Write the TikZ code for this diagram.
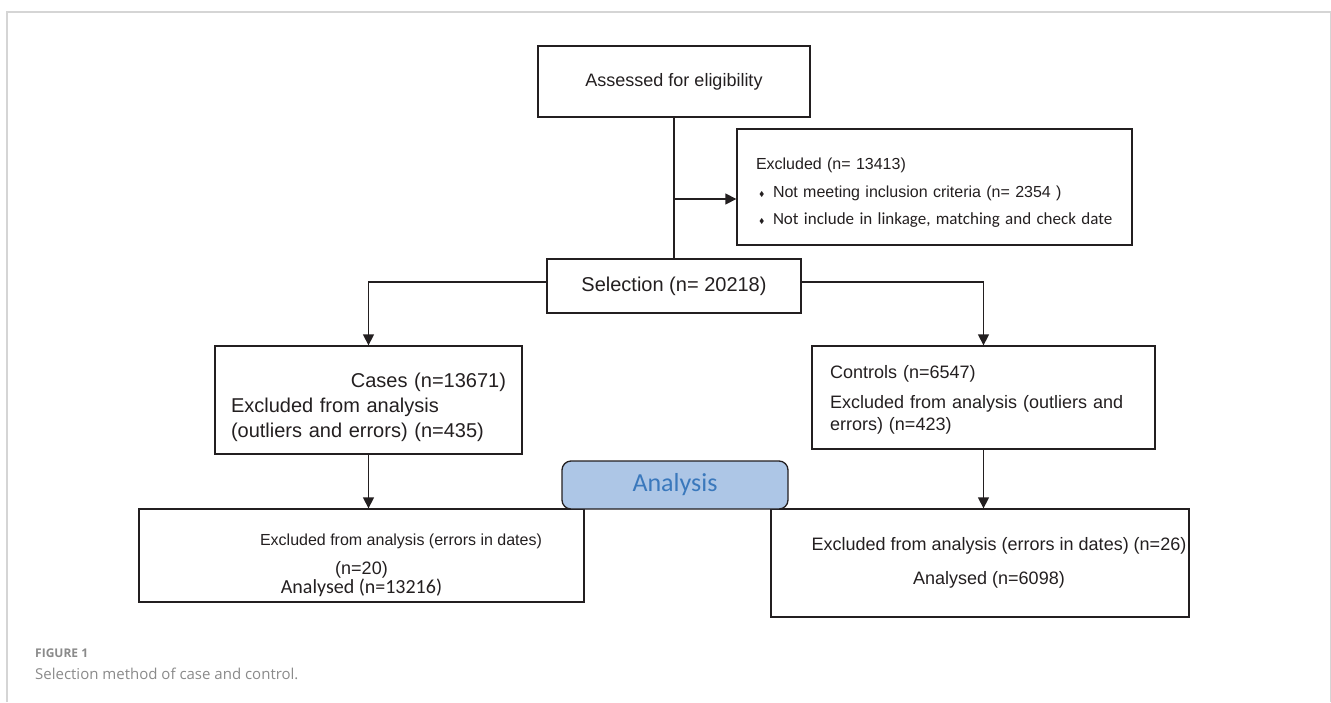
\documentclass[tikz,border=0pt]{standalone}
\usepackage{amssymb}
\usepackage{fontspec}
\setmainfont{Liberation Sans}
\newfontfamily\calibri{Carlito}
\newfontfamily\capfont{Open Sans}
\usetikzlibrary{arrows.meta}
\definecolor{txt}{HTML}{231F20}
\definecolor{anafill}{HTML}{ADC6E6}
\definecolor{anatext}{HTML}{3A78BC}
\definecolor{framegray}{HTML}{D5D5D5}
\definecolor{capgray}{HTML}{8A8A8A}
\newcommand{\fsz}[2]{\fontsize{#1}{#2}\selectfont}
\newcommand{\bul}{\hspace*{3pt}\makebox[14pt][l]{\raisebox{1pt}{\fsz{7}{7}$\blacklozenge$}}}

\tikzset{
  box/.style={draw=txt, line width=1.3pt, inner sep=0pt, text=txt},
  link/.style={draw=txt, line width=1.3pt},
  arr/.style={link, -{Triangle[length=11pt,width=11pt]}},
}

\begin{document}
\begin{tikzpicture}[x=1pt,y=-1pt]
      \useasboundingbox (0,0) rectangle (1331,702);
      \draw[framegray, line width=2pt] (7,702) -- (7,12) -- (1330.5,12) -- (1330.5,702);

      \node[box,minimum width=272pt,minimum height=71pt,font=\fsz{18}{22}] (assess) at (674,81.5) {Assessed for eligibility};
      \node[box,minimum width=395pt,minimum height=116pt,text width=357pt,inner xsep=19pt,align=left,font=\fsz{16}{27.5}] (excl) at (934.5,187)
        {\rule{0pt}{23pt}Excluded (n= 13413)\\ \bul Not meeting inclusion criteria (n= 2354 )\\ \bul\mbox{\calibri\fsz{17}{27.5}Not include in linkage, matching and check date}};
      \node[box,minimum width=254pt,minimum height=54pt,font=\fsz{20}{24}] (select) at (674,286) {Selection (n= 20218)};
      \node[box,minimum width=307pt,minimum height=108pt,text width=275pt,inner xsep=16pt,align=left,font=\fsz{20}{25}] (cases) at (368.5,400)
        {\rule{0pt}{30pt}\hfill Cases (n=13671)\\ Excluded from analysis\\ (outliers and errors) (n=435)};
      \node[box,minimum width=343pt,minimum height=103pt,text width=307pt,inner xsep=18pt,align=left,font=\fsz{18}{22}] (controls) at (983.5,397.5)
        {\rule{0pt}{17pt}Controls (n=6547)\\[8pt] Excluded from analysis (outliers and\\ errors) (n=423)};
      \node[box,minimum width=445pt,minimum height=93pt,align=center,font=\fsz{18}{22}] (resL) at (361.5,555.5)
        {\rule{0pt}{32pt}\hspace*{79pt}{\fsz{16}{22}Excluded from analysis (errors in dates)}\\[7pt] (n=20)\\[-3pt] {\calibri\fsz{20}{22}Analysed (n=13216)}};
      \node[box,minimum width=418pt,minimum height=108pt,align=center,font=\fsz{18}{22}] (resR) at (980,563)
        {\hspace*{38pt}Excluded from analysis (errors in dates) (n=26)\\[12pt] \hspace*{18pt}Analysed (n=6098)};
      \node[box,fill=anafill,rounded corners=9pt,minimum width=226pt,minimum height=48pt,text=anatext,font=\calibri\fsz{26}{30}] (analysis) at (675,485) {Analysis};

      \coordinate (split) at (674,199);
      \draw[link] (assess) -- (select);
      \draw[arr] (split) -- (split -| excl.west);
      \draw[arr] ([yshift=4pt]select.west) -| (cases.north);
      \draw[arr] ([yshift=4pt]select.east) -| (controls.north);
      \draw[arr] (cases.south) -- (cases.south |- resL.north);
      \draw[arr] (controls.south) -- (controls.south |- resR.north);

      \node[anchor=west,inner sep=0pt,text=capgray,font=\capfont\bfseries\fsz{12}{15}] (fignum) at (35,653) {FIGURE 1};
      \node[anchor=west,inner sep=0pt,text=capgray,font=\capfont\fsz{15}{18}] (figcap) at (35,674) {Selection method of case and control.};
    \end{tikzpicture}
\end{document}
